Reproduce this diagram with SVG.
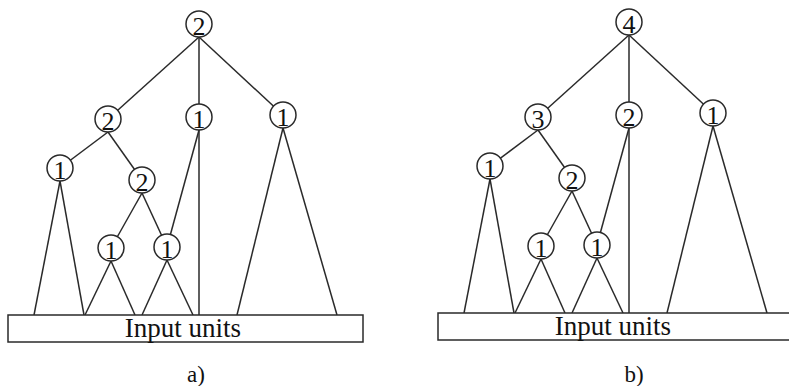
<svg xmlns="http://www.w3.org/2000/svg" width="789" height="386" viewBox="0 0 789 386">
  <style>
    .edge { stroke: #2a2a2a; stroke-width: 1.5; fill: none; }
    .node circle { fill: #ffffff; stroke: #2a2a2a; stroke-width: 1.5; }
    text { fill: #111; text-anchor: middle; }
    .box { fill: #ffffff; stroke: #2a2a2a; stroke-width: 1.5; }
  </style>
  <rect width="789" height="386" fill="#ffffff"/>

  <!-- Panel a -->
  <g id="panel-a">
    <g id="a-connectors">
      <line class="edge" x1="199" y1="37" x2="108" y2="119"/>
      <line class="edge" x1="199" y1="37" x2="199" y2="117"/>
      <line class="edge" x1="199" y1="37" x2="283" y2="115"/>
      <line class="edge" x1="108" y1="132" x2="60" y2="168"/>
      <line class="edge" x1="108" y1="132" x2="142" y2="180"/>
      <line class="edge" x1="60" y1="181" x2="34" y2="315"/>
      <line class="edge" x1="60" y1="181" x2="84" y2="315"/>
      <line class="edge" x1="142" y1="193" x2="111" y2="248"/>
      <line class="edge" x1="142" y1="193" x2="167" y2="247"/>
      <line class="edge" x1="111" y1="261" x2="85" y2="315"/>
      <line class="edge" x1="111" y1="261" x2="135" y2="315"/>
      <line class="edge" x1="167" y1="260" x2="142" y2="315"/>
      <line class="edge" x1="167" y1="260" x2="193" y2="315"/>
      <line class="edge" x1="199" y1="130" x2="167" y2="247"/>
      <line class="edge" x1="199" y1="130" x2="199" y2="315"/>
      <line class="edge" x1="283" y1="128" x2="237" y2="315"/>
      <line class="edge" x1="283" y1="128" x2="337" y2="315"/>
    </g>
    <g id="a-input">
      <rect class="box" x="8" y="315" width="355" height="27"/>
      <text x="183" y="337" font-family="Liberation Serif" font-size="27">Input units</text>
    </g>
    <g id="a-n0" class="node"><circle cx="199" cy="24" r="13"/><text x="199" y="35" font-family="Liberation Serif" font-size="26">2</text></g>
    <g id="a-n1" class="node"><circle cx="108" cy="119" r="13"/><text x="108" y="130" font-family="Liberation Serif" font-size="26">2</text></g>
    <g id="a-n2" class="node"><circle cx="199" cy="117" r="13"/><text x="199" y="128" font-family="Liberation Serif" font-size="26">1</text></g>
    <g id="a-n3" class="node"><circle cx="283" cy="115" r="13"/><text x="283" y="126" font-family="Liberation Serif" font-size="26">1</text></g>
    <g id="a-n4" class="node"><circle cx="60" cy="168" r="13"/><text x="60" y="179" font-family="Liberation Serif" font-size="26">1</text></g>
    <g id="a-n5" class="node"><circle cx="142" cy="180" r="13"/><text x="142" y="191" font-family="Liberation Serif" font-size="26">2</text></g>
    <g id="a-n6" class="node"><circle cx="111" cy="248" r="13"/><text x="111" y="259" font-family="Liberation Serif" font-size="26">1</text></g>
    <g id="a-n7" class="node"><circle cx="167" cy="247" r="13"/><text x="167" y="258" font-family="Liberation Serif" font-size="26">1</text></g>
    <text x="196" y="382" font-family="Liberation Serif" font-size="23">a)</text>
  </g>

  <!-- Panel b: same layout, shifted right -->
  <g id="panel-b">
    <g transform="translate(430,-2)">
      <g id="b-connectors">
        <line class="edge" x1="199" y1="37" x2="108" y2="119"/>
        <line class="edge" x1="199" y1="37" x2="199" y2="117"/>
        <line class="edge" x1="199" y1="37" x2="283" y2="115"/>
        <line class="edge" x1="108" y1="132" x2="60" y2="168"/>
        <line class="edge" x1="108" y1="132" x2="142" y2="180"/>
        <line class="edge" x1="60" y1="181" x2="34" y2="315"/>
        <line class="edge" x1="60" y1="181" x2="84" y2="315"/>
        <line class="edge" x1="142" y1="193" x2="111" y2="248"/>
        <line class="edge" x1="142" y1="193" x2="167" y2="247"/>
        <line class="edge" x1="111" y1="261" x2="85" y2="315"/>
        <line class="edge" x1="111" y1="261" x2="135" y2="315"/>
        <line class="edge" x1="167" y1="260" x2="142" y2="315"/>
        <line class="edge" x1="167" y1="260" x2="193" y2="315"/>
        <line class="edge" x1="199" y1="130" x2="167" y2="247"/>
        <line class="edge" x1="199" y1="130" x2="199" y2="315"/>
        <line class="edge" x1="283" y1="128" x2="237" y2="315"/>
        <line class="edge" x1="283" y1="128" x2="337" y2="315"/>
      </g>
      <g id="b-input">
        <rect class="box" x="8" y="315" width="360" height="27"/>
        <text x="183" y="337" font-family="Liberation Serif" font-size="27">Input units</text>
      </g>
      <g id="b-n0" class="node"><circle cx="199" cy="24" r="13"/><text x="199" y="35" font-family="Liberation Serif" font-size="26">4</text></g>
      <g id="b-n1" class="node"><circle cx="108" cy="119" r="13"/><text x="108" y="130" font-family="Liberation Serif" font-size="26">3</text></g>
      <g id="b-n2" class="node"><circle cx="199" cy="117" r="13"/><text x="199" y="128" font-family="Liberation Serif" font-size="26">2</text></g>
      <g id="b-n3" class="node"><circle cx="283" cy="115" r="13"/><text x="283" y="126" font-family="Liberation Serif" font-size="26">1</text></g>
      <g id="b-n4" class="node"><circle cx="60" cy="168" r="13"/><text x="60" y="179" font-family="Liberation Serif" font-size="26">1</text></g>
      <g id="b-n5" class="node"><circle cx="142" cy="180" r="13"/><text x="142" y="191" font-family="Liberation Serif" font-size="26">2</text></g>
      <g id="b-n6" class="node"><circle cx="111" cy="248" r="13"/><text x="111" y="259" font-family="Liberation Serif" font-size="26">1</text></g>
      <g id="b-n7" class="node"><circle cx="167" cy="247" r="13"/><text x="167" y="258" font-family="Liberation Serif" font-size="26">1</text></g>
    </g>
    <text x="634" y="382" font-family="Liberation Serif" font-size="23">b)</text>
  </g>
</svg>
